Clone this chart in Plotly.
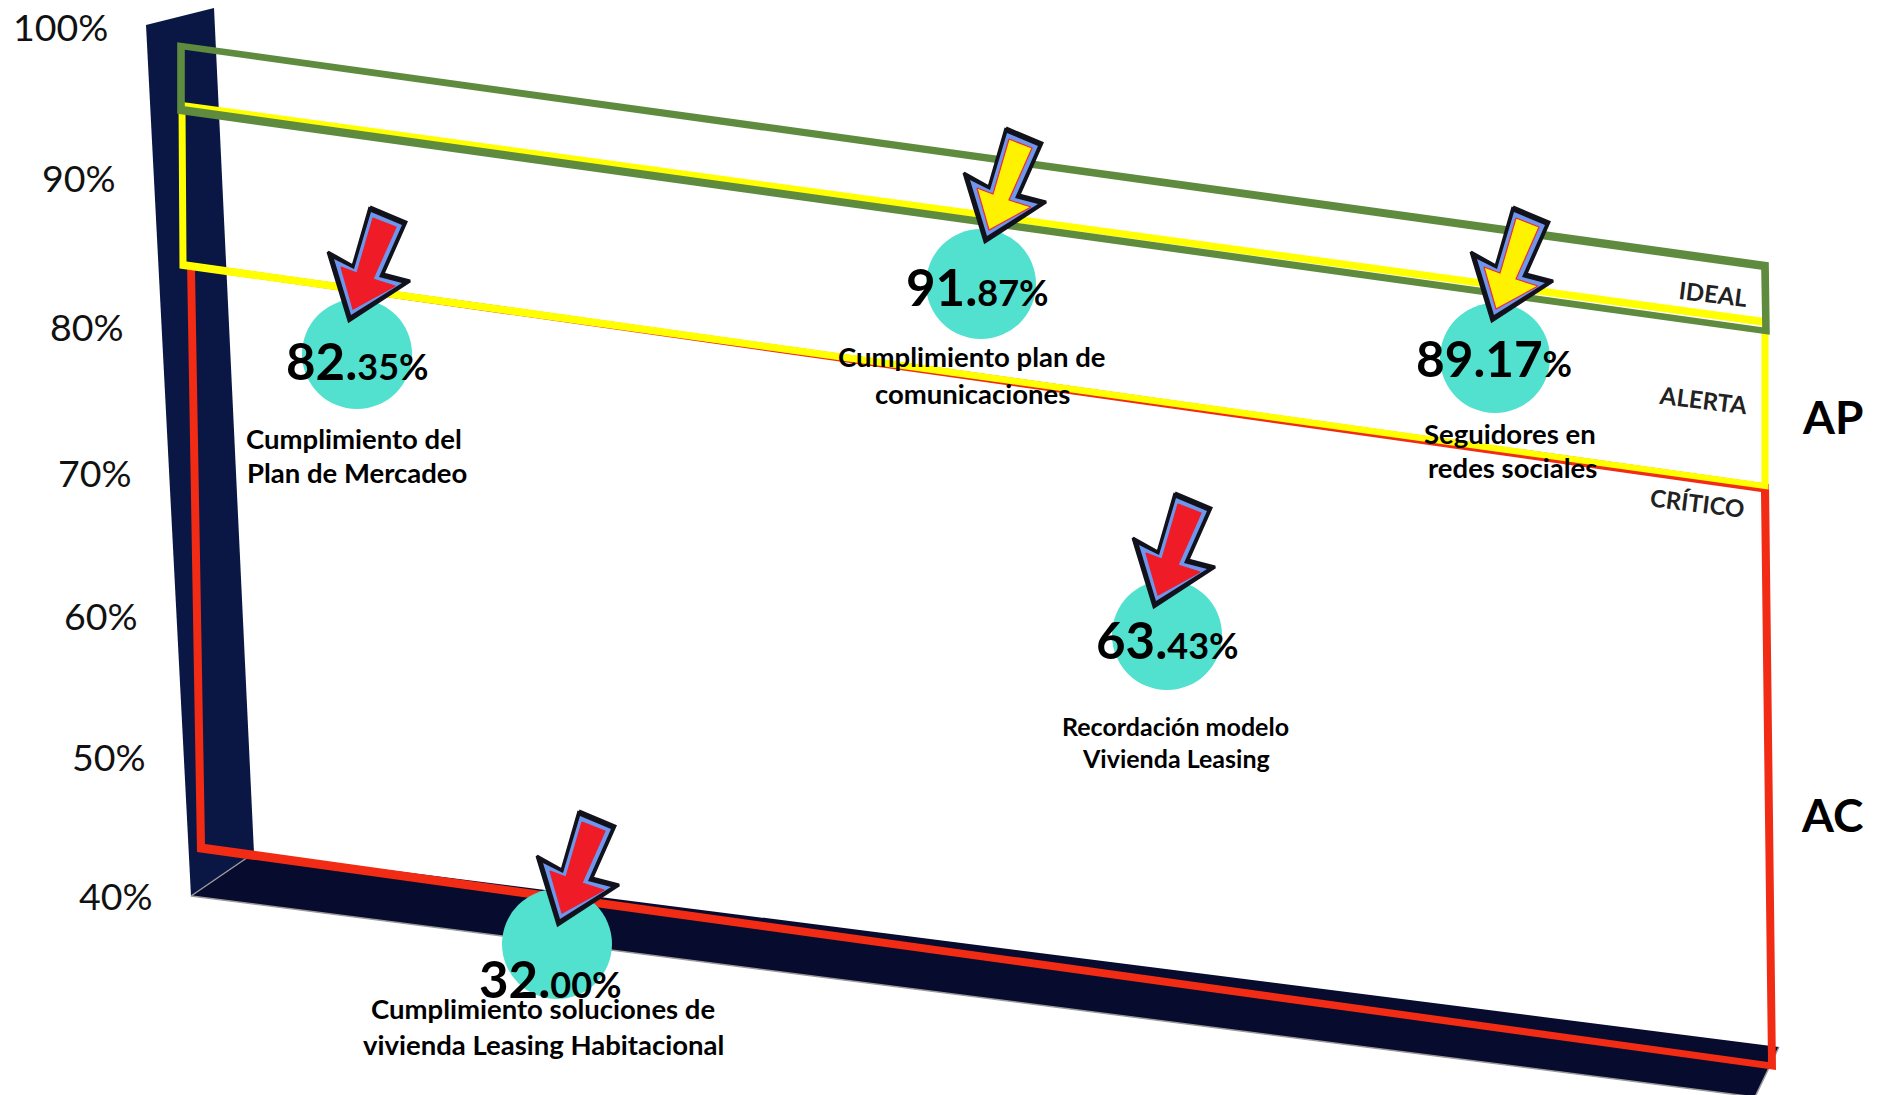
import plotly.graph_objects as go

# KPI data
kpi_names = [
    ["Cumplimiento del", "Plan de Mercadeo"],
    ["Cumplimiento plan de", "comunicaciones"],
    ["Seguidores en", "redes sociales"],
    ["Recordación modelo", "Vivienda Leasing"],
    ["Cumplimiento soluciones de", "vivienda Leasing Habitacional"],
]
kpi_values = [82.35, 91.87, 89.17, 63.43, 32.00]
kpi_status = ["CRÍTICO", "ALERTA", "ALERTA", "CRÍTICO", "CRÍTICO"]
tick_labels = ["100%", "90%", "80%", "70%", "60%", "50%", "40%"]
zone_labels = ["IDEAL", "ALERTA", "CRÍTICO"]
side_labels = ["AP", "AC"]

# Layout of the slanted board, in canvas units
FONT = "Lato"
W, H = 1880, 1095
tick_right = [109, 117, 125, 133, 139, 147, 154]
tick_y = [26, 177, 326, 472, 615, 756, 895]
bubble_x = [357, 981, 1495, 1167, 557]
bubble_y = [354, 284, 358, 635, 944]
bubble_d = 110
tip_x = [349, 985, 1492, 1154, 558]
tip_y = [321, 242, 321, 607, 925]
value_x = [357, 977, 1494, 1167, 550]
value_y = [360, 286, 358, 639, 978]
value_size = [51, 51, 49.5, 51, 51]
small_part = [True, True, False, True, True]
name_x = [[354, 357], [972, 972], [1510, 1512], [1175, 1176], [543, 543]]
name_y = [[438, 472], [356, 393], [433, 467], [726, 758], [1008, 1044]]
name_size = [27.5, 27.5, 27.5, 25, 27.5]
zone_x, zone_y = [1713, 1703, 1697], [293, 399, 502]
side_x, side_y = [1832, 1832], [416, 814]

wall_x, wall_y = [146, 214, 254, 191], [25, 8, 853, 896]
floor_x, floor_y = [191, 254, 1779, 1755], [896, 853, 1047, 1097]
floor_edge_x = [254, 191, 1755, 1779]
floor_edge_y = [853, 896, 1097, 1047]

frame_red = ([191, 1765, 1772, 201], [266, 488, 1066, 848], 4)
frame_yellow = ([182, 1765, 1765, 183], [105, 322, 486, 265], 3.5)
frame_green = ([181, 1765, 1766, 181], [46, 266, 331, 110], 3.8)

# Arrow outlines relative to the tip: black rim, blue band, coloured core
arrow_rim = [(21, -114), (57, -99), (34, -47), (61, -40), (0, 0), (-21, -69), (4, -55)]
arrow_band = [(22, -109), (53, -96), (30, -44), (53, -38), (2, -6), (-15, -62), (5, -52)]
arrow_core = [(24, -103), (47, -94), (24, -42), (46, -35), (4, -12), (-8, -54), (8, -48)]

status_fill = {"CRÍTICO": "#EF1C27", "ALERTA": "#FFF200"}
status_edge = {"CRÍTICO": "#EF1C27", "ALERTA": "#EE2A3A"}

fig = go.Figure()


def polygon(xs, ys, color, edge=None, edge_w=0):
    fig.add_trace(go.Scatter(
        x=list(xs) + [xs[0]], y=list(ys) + [ys[0]], mode="lines", fill="toself",
        fillcolor=color, line=dict(color=edge or color, width=edge_w),
        hoverinfo="skip", showlegend=False,
    ))


def frame(corners_x, corners_y, half, color):
    """Hollow quadrilateral with square corners: outer ring plus reversed inner ring."""
    sx, sy = [-1, 1, 1, -1], [-1, -1, 1, 1]
    ox = [x + s * half for x, s in zip(corners_x, sx)]
    oy = [y + s * half for y, s in zip(corners_y, sy)]
    ix = [x - s * half for x, s in zip(corners_x, sx)][::-1]
    iy = [y - s * half for y, s in zip(corners_y, sy)][::-1]
    fig.add_trace(go.Scatter(
        x=ox + [ox[0], None] + ix + [ix[0]], y=oy + [oy[0], None] + iy + [iy[0]],
        mode="lines", fill="toself", fillcolor=color, line=dict(color=color, width=0),
        hoverinfo="skip", showlegend=False,
    ))


def shifted(points, dx, dy):
    return [dx + p[0] for p in points], [dy + p[1] for p in points]


# Back wall and floor
polygon(wall_x, wall_y, "#0A1744")
polygon(floor_x, floor_y, "#070B2E")
fig.add_trace(go.Scatter(
    x=floor_edge_x, y=floor_edge_y, mode="lines", line=dict(color="#9A9A9A", width=1.5),
    hoverinfo="skip", showlegend=False,
))

# Zone frames, stacked from critical up to ideal
frame(*frame_red[:2], frame_red[2], "#F22B15")
frame(*frame_yellow[:2], frame_yellow[2], "#FFFF00")
frame(*frame_green[:2], frame_green[2], "#5F8B3F")

# Bubbles
fig.add_trace(go.Scatter(
    x=bubble_x, y=bubble_y, mode="markers",
    marker=dict(size=bubble_d, color="#52E0CF", line=dict(width=0)),
    hoverinfo="skip", showlegend=False,
))

# Status arrows
for tx, ty, status in zip(tip_x, tip_y, kpi_status):
    rim_x, rim_y = shifted(arrow_rim, tx, ty)
    band_x, band_y = shifted(arrow_band, tx, ty)
    core_x, core_y = shifted(arrow_core, tx, ty)
    polygon(rim_x, rim_y, "#12121C", "#12121C", 3)
    polygon(band_x, band_y, "#6E96EC")
    polygon(core_x, core_y, status_fill[status], status_edge[status], 1.2)

annotations = []


def label(x, y, text, size, bold=False, angle=0, anchor="center", color="#000000"):
    annotations.append(dict(
        x=x, y=y, xref="x", yref="y", text=f"<b>{text}</b>" if bold else text,
        showarrow=False, xanchor=anchor, yanchor="middle", textangle=angle,
        font=dict(family=FONT, size=size, color=color), borderpad=0,
    ))


for text, right, y in zip(tick_labels, tick_right, tick_y):
    label(right, y, text, 37.5, anchor="right", color="#111111")

for x, y, value, small, size in zip(value_x, value_y, kpi_values, small_part, value_size):
    whole, decimals = f"{value:.2f}".split(".")
    if small:
        text = (f"<b>{whole}.</b><span style='font-size:36px'><b>{decimals}%</b></span>")
    else:
        text = (f"<b>{whole}.{decimals}</b><span style='font-size:36px'><b>%</b></span>")
    label(x, y, text, size)

for lines, xs, ys, size in zip(kpi_names, name_x, name_y, name_size):
    for line, x, y in zip(lines, xs, ys):
        label(x, y, line, size, bold=True)

for text, x, y in zip(zone_labels, zone_x, zone_y):
    label(x, y, text, 24, bold=True, angle=7, color="#222222")

for text, x, y in zip(side_labels, side_x, side_y):
    label(x, y, text, 46, bold=True)

fig.update_layout(
    width=W, height=H, autosize=False,
    margin=dict(l=0, r=0, t=0, b=0, pad=0),
    paper_bgcolor="#FFFFFF", plot_bgcolor="#FFFFFF",
    xaxis=dict(range=[0, W], visible=False, fixedrange=True),
    yaxis=dict(range=[H, 0], visible=False, fixedrange=True),
    annotations=annotations, showlegend=False,
)
fig.write_html("out.html", config=dict(displayModeBar=False))
